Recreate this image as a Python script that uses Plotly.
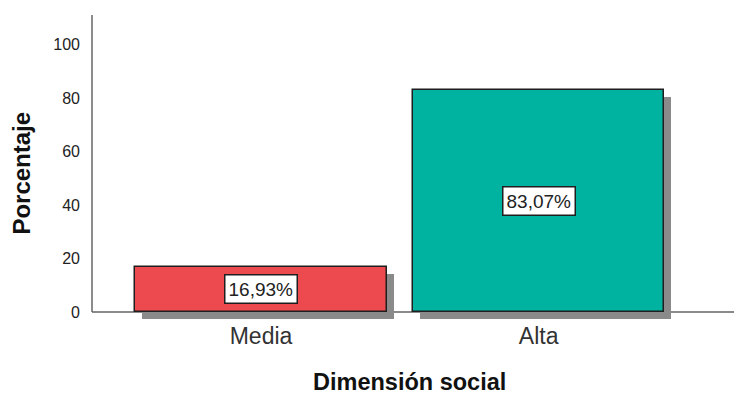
import plotly.graph_objects as go

# Percentages per level of the "Dimensión social" variable
categorias = ["Media", "Alta"]
porcentajes = [16.93, 83.07]
colores = ["#EC4A4F", "#00B3A0"]
marcas_y = [0, 20, 40, 60, 80, 100]

ancho_barra = 0.905
desfase_sombra_x = 0.0252   # shadow shift to the right (category units)
desfase_sombra_y = 2.62     # shadow shift downwards (percentage units)

etiquetas = [f"{v:.2f}".replace(".", ",") + "%" for v in porcentajes]

fig = go.Figure()

# Drop shadow behind each bar
fig.add_trace(go.Bar(
    x=categorias,
    y=porcentajes,
    base=[-desfase_sombra_y] * len(porcentajes),
    width=ancho_barra,
    offset=-ancho_barra / 2 + desfase_sombra_x,
    marker=dict(color="#8A8A8A", line=dict(width=0)),
    hoverinfo="skip",
    showlegend=False,
))

# Main bars
fig.add_trace(go.Bar(
    x=categorias,
    y=porcentajes,
    width=ancho_barra,
    offset=-ancho_barra / 2,
    marker=dict(color=colores, line=dict(color="#1E1E1E", width=1.5)),
    showlegend=False,
))

# Boxed value labels in the middle of each bar
for cat, val, txt in zip(categorias, porcentajes, etiquetas):
    fig.add_annotation(
        x=cat, y=val / 2, xref="x", yref="y",
        text=txt, showarrow=False,
        font=dict(family="Arial, Liberation Sans, sans-serif", size=19, color="#222222"),
        bgcolor="white", bordercolor="#1E1E1E", borderwidth=1.5, borderpad=3,
    )

# Axis titles
fig.add_annotation(
    x=(409 - 92) / 642, y=-0.204, xref="paper", yref="paper",
    text="<b>Dimensión social</b>", showarrow=False,
    font=dict(family="Arial, Liberation Sans, sans-serif", size=23.5, color="#111111"),
    xanchor="center", yanchor="middle",
)
fig.add_annotation(
    x=-0.109, y=0.48, xref="paper", yref="paper",
    text="<b>Porcentaje</b>", showarrow=False, textangle=-90,
    font=dict(family="Arial, Liberation Sans, sans-serif", size=24, color="#111111"),
    xanchor="center", yanchor="middle",
)

# Vertical axis line from 0 upwards
fig.add_shape(
    type="line", xref="paper", yref="y",
    x0=0, x1=0, y0=0, y1=111,
    line=dict(color="#666666", width=1.5), layer="above",
)

fig.update_layout(
    width=734, height=396,
    margin=dict(l=92, r=0, t=15, b=76),
    paper_bgcolor="white", plot_bgcolor="white",
    barmode="overlay",
    bargap=0,
    font=dict(family="Arial, Liberation Sans, sans-serif", color="#222222"),
    xaxis=dict(
        type="category",
        range=[-0.609, 1.704],
        showgrid=False, showline=False, zeroline=False,
        ticks="",
        tickfont=dict(size=23, color="#333333"),
        fixedrange=True,
    ),
    yaxis=dict(
        range=[-3, 111],
        tickvals=marcas_y,
        showgrid=False, showline=False,
        zeroline=True, zerolinecolor="#8A8A8A", zerolinewidth=1.5,
        ticks="",
        ticklabelstandoff=11,
        tickfont=dict(size=16, color="#222222"),
        fixedrange=True,
    ),
)

fig.write_html("out.html")
